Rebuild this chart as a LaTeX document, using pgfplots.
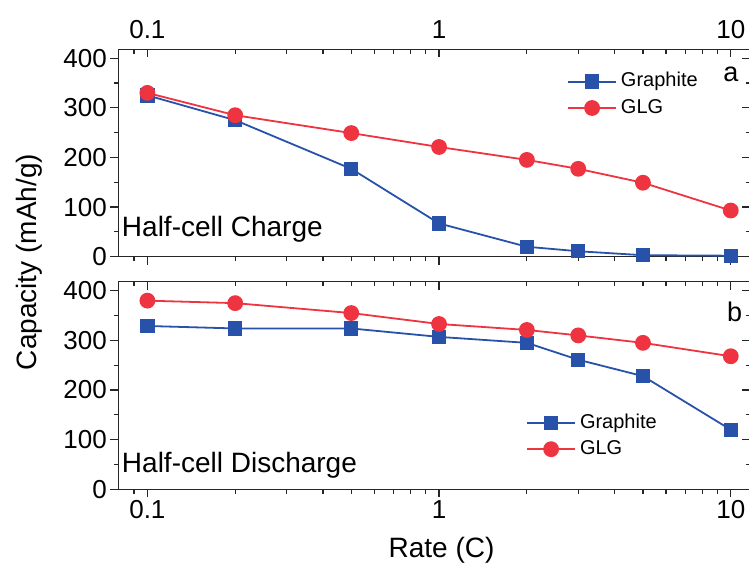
\documentclass[border=0pt]{standalone}
\usepackage{fontspec}
\setmainfont{Liberation Sans}
\usepackage{pgfplots}
\pgfplotsset{compat=1.18}
\definecolor{gblue}{RGB}{40,82,170}
\definecolor{gred}{RGB}{238,52,64}

\pgfplotsset{
    xmin=0.0795, xmax=11.64, ymin=0, ymax=418,
    scale only axis, width=631.7pt, height=207.5pt,
    xtick={0.1,1,10},
    minor xtick={0.09,0.2,0.3,0.4,0.5,0.6,0.7,0.8,0.9,2,3,4,5,6,7,8,9},
    ytick={0,100,200,300,400}, minor ytick={50,150,250,350},
    major tick length=8pt, minor tick length=4.5pt,
    axis line style={line width=1.3pt, black!85},
    tick style={line width=1.2pt, black!85},
    tick label style={font=\fontsize{26}{30}\selectfont},
    /pgf/number format/assume math mode=true,
    legend style={draw=none, fill=none, font=\fontsize{20}{24}\selectfont,
      inner sep=0pt, row sep=4.8pt, column sep=3pt,
      nodes={inner sep=1pt, text height=15pt, text depth=4.5pt}},
    legend cell align=left,
    legend image code/.code={\draw[mark repeat=2,mark phase=2,#1] plot coordinates {(0pt,0pt) (24pt,0pt) (48pt,0pt)};},
}

\begin{document}
\begin{tikzpicture}
% ---- top panel (a) ----
\begin{semilogxaxis}[anchor=south west, at={(118.3pt,310.3pt)},
  tick align=inside, xtick pos=right, ytick pos=right,
  xticklabel pos=right, xticklabels={0.1,1,10}, yticklabels={},
  xticklabel style={yshift=7pt}]
\addplot[draw=none, forget plot] coordinates {(1,100)};
\end{semilogxaxis}
\begin{semilogxaxis}[anchor=south west, at={(118.3pt,310.3pt)},
  tick align=outside, xtick pos=left, ytick pos=left,
  xticklabels={},
  legend style={at={(axis description cs:0.7103,0.780)}, anchor=west}]
\addplot[gblue, line width=1.8pt, mark=square*, mark size=6.3pt, mark options={solid, fill=gblue, draw=gblue}]
  coordinates {(0.1,325)(0.2,275)(0.5,177)(1,67)(2,20)(3,11)(5,3)(10,2)};
\addlegendentry{Graphite}
\addplot[gred, line width=1.8pt, mark=*, mark size=7pt, mark options={solid, fill=gred, draw=gred}]
  coordinates {(0.1,330)(0.2,285)(0.5,249)(1,221)(2,195)(3,177)(5,149)(10,93)};
\addlegendentry{GLG}
\node[anchor=base west, inner sep=0pt, font=\fontsize{28}{34}\selectfont] at (axis cs:0.0817,40) {Half-cell Charge};
\node[anchor=base, inner sep=0pt, font=\fontsize{27}{32}\selectfont] at (axis cs:10,353) {a};
\end{semilogxaxis}
% ---- bottom panel (b) ----
\begin{semilogxaxis}[anchor=south west, at={(118.3pt,77.7pt)},
  tick align=inside, xtick pos=right, ytick pos=right,
  xticklabels={}, yticklabels={}]
\addplot[draw=none, forget plot] coordinates {(1,100)};
\end{semilogxaxis}
\begin{semilogxaxis}[anchor=south west, at={(118.3pt,77.7pt)},
  tick align=outside, xtick pos=left, ytick pos=left,
  xticklabels={0.1,1,10},
  legend style={at={(axis description cs:0.6454,0.2567)}, anchor=west}]
\addplot[gblue, line width=1.8pt, mark=square*, mark size=6.3pt, mark options={solid, fill=gblue, draw=gblue}]
  coordinates {(0.1,329)(0.2,324)(0.5,324)(1,307)(2,295)(3,261)(5,228)(10,120)};
\addlegendentry{Graphite}
\addplot[gred, line width=1.8pt, mark=*, mark size=7pt, mark options={solid, fill=gred, draw=gred}]
  coordinates {(0.1,380)(0.2,375)(0.5,355)(1,333)(2,321)(3,310)(5,295)(10,268)};
\addlegendentry{GLG}
\node[anchor=base west, inner sep=0pt, font=\fontsize{28}{34}\selectfont] at (axis cs:0.0817,33) {Half-cell Discharge};
\node[anchor=base, inner sep=0pt, font=\fontsize{27}{32}\selectfont] at (axis cs:10.3,338) {b};
\end{semilogxaxis}
% ---- shared labels ----
\node[rotate=90, anchor=base, inner sep=0pt, font=\fontsize{28}{34}\selectfont] at (36pt,305pt) {Capacity (mAh/g)};
\node[anchor=base, inner sep=0pt, font=\fontsize{28}{34}\selectfont] at (441.5pt,9pt) {Rate (C)};
\pgfresetboundingbox
\path[use as bounding box] (0pt,0pt) rectangle (749pt,567pt);
\end{tikzpicture}
\end{document}
